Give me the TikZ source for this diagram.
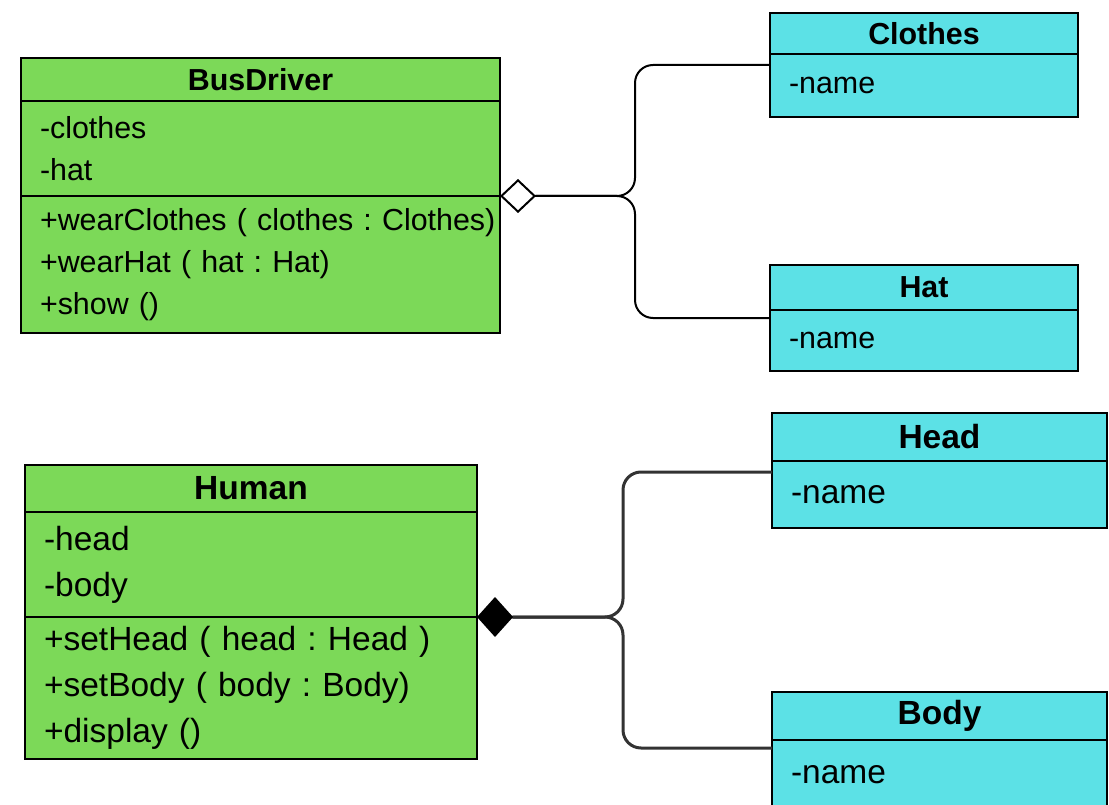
\documentclass[tikz,border=0pt]{standalone}
\usepackage{fontspec}
\setmainfont{Liberation Sans}
\usetikzlibrary{positioning, arrows.meta}
\definecolor{classgreen}{RGB}{124,217,88}
\definecolor{partcyan}{RGB}{92,225,230}
\tikzset{
compartment/.style={draw, line width=2pt, inner xsep=19pt, inner ysep=0pt, outer sep=0pt, align=left}, % one box of a class
whole/.style={compartment, fill=classgreen}, % the owning classes
part/.style={compartment, fill=partcyan}, % the classes that are owned
title/.style={align=center, font=\bfseries\upperfont}, % class name row
upper/.style={font=\upperfont}, % text size of the top pair
lower/.style={font=\lowerfont}, % text size of the bottom pair (slightly larger)
aggregation/.style={line width=2pt, rounded corners=18pt}, % hollow diamond link
composition/.style={line width=3pt, draw=black!80, rounded corners=18pt}, % filled diamond link
}
\newcommand{\upperfont}{\fontsize{30.4}{42}\selectfont\frenchspacing}
\newcommand{\lowerfont}{\fontsize{33.5}{46}\selectfont\frenchspacing}

\begin{document}
\begin{tikzpicture}[x=1pt, y=-1pt]
        \useasboundingbox (0,0) rectangle (1109,805);

        % BusDriver with its clothes and hat
        \node[whole, title, text width=441pt, minimum height=43pt, anchor=north west] (BusDriver) at (21,58) {BusDriver};
        \node[whole, upper, text width=441pt, minimum height=95pt, below=0pt of BusDriver] (BusDriver-attr) {-clothes\\-hat};
        \node[whole, upper, text width=441pt, minimum height=137pt, below=0pt of BusDriver-attr] (BusDriver-ops) {\mbox{+wearClothes ( clothes : Clothes)}\\+wearHat ( hat : Hat)\\+show ()\\[-6pt]};

        \node[part, title, text width=270pt, minimum height=41pt, anchor=north west] (Clothes) at (770,13) {Clothes};
        \node[part, upper, text width=270pt, minimum height=63pt, below=0pt of Clothes] (Clothes-attr) {-name};

        \node[part, title, text width=270pt, minimum height=45pt, anchor=north west] (Hat) at (770,265) {Hat};
        \node[part, upper, text width=270pt, minimum height=61pt, below=0pt of Hat] (Hat-attr) {-name};

        \draw[aggregation, {Diamond[open, length=36pt, width=34pt]}-] (BusDriver-ops.north east) -- ++(135,0) |- ([yshift=-11pt]Clothes-attr.north west);
        \draw[aggregation, shorten <=36pt] (BusDriver-ops.north east) -- ++(135,0) |- ([yshift=-8pt]Hat-attr.north west);

        % Human made of head and body
        \node[whole, title, font=\bfseries\lowerfont, text width=414pt, minimum height=47pt, anchor=north west] (Human) at (25,465) {Human};
        \node[whole, lower, text width=414pt, minimum height=105pt, below=0pt of Human] (Human-attr) {-head\\-body};
        \node[whole, lower, text width=414pt, minimum height=142pt, below=0pt of Human-attr] (Human-ops) {+setHead ( head : Head )\\+setBody ( body : Body)\\+display ()};

        \node[part, title, font=\bfseries\lowerfont, text width=297pt, minimum height=48pt, anchor=north west] (Head) at (772,413) {Head};
        \node[part, lower, text width=297pt, minimum height=67pt, below=0pt of Head] (Head-attr) {-name};

        \node[part, title, font=\bfseries\lowerfont, text width=297pt, minimum height=48pt, anchor=north west] (Body) at (772,692) {Body};
        \node[part, lower, text width=297pt, minimum height=70pt, below=0pt of Body] (Body-attr) {-name\\[-6pt]};

        \draw[composition, {Diamond[length=36pt, width=40pt, color=black]}-] (Human-ops.north east) -- ++(146,0) |- ([yshift=-11pt]Head-attr.north west);
        \draw[composition, shorten <=36pt] (Human-ops.north east) -- ++(146,0) |- ([yshift=-8pt]Body-attr.north west);
    \end{tikzpicture}
\end{document}
